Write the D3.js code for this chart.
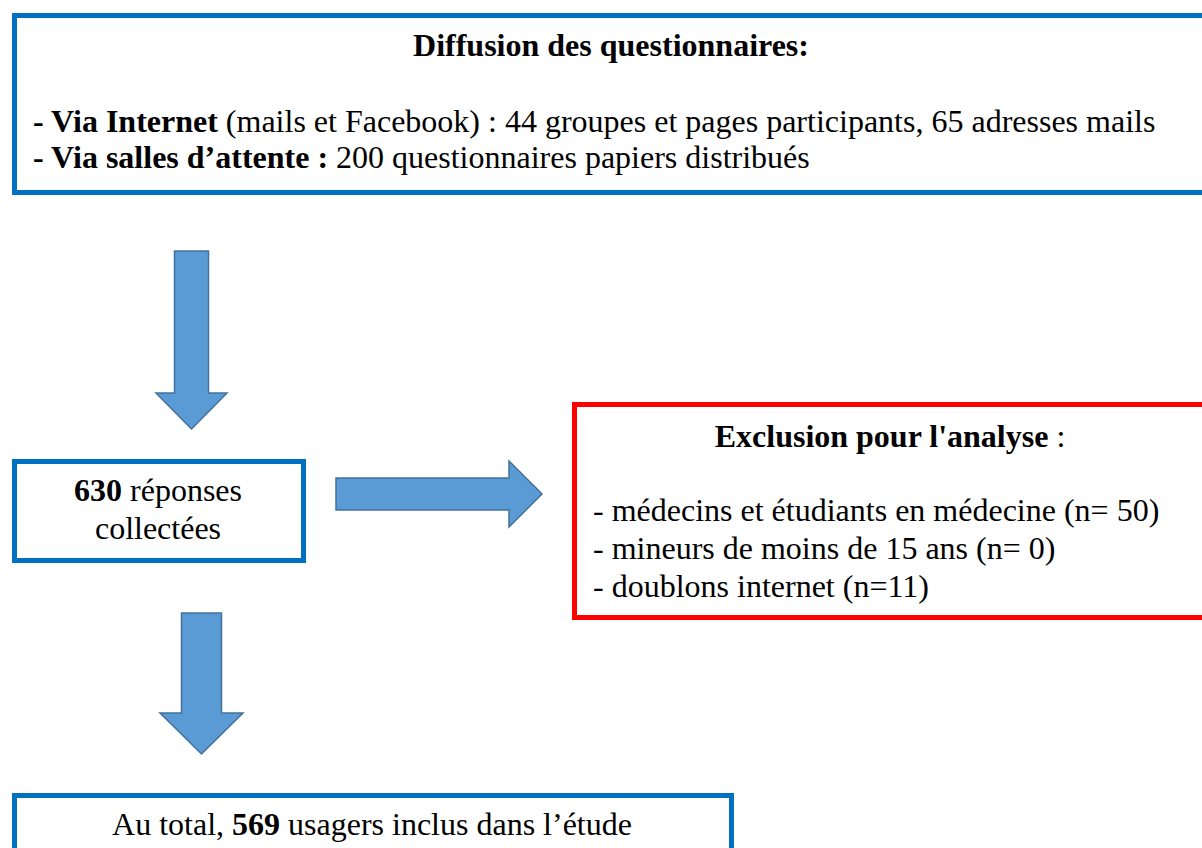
<!DOCTYPE html>
<html>
<head>
<meta charset="utf-8">
<script src="https://cdn.jsdelivr.net/npm/d3@7"></script>
<style>
  body { margin: 0; background: #fff; }
  svg { display: block; }
  text { font-family: "Liberation Serif", "Times New Roman", serif; fill: #000; }
</style>
</head>
<body>
<div id="chart"></div>
<script>
// Flowchart content
const diffusionTitle = 'Diffusion des questionnaires:';
const channels = ['Via Internet', 'Via salles d\u2019attente :'];
const channelDetails = [
  ' (mails et Facebook) : 44 groupes et pages participants, 65 adresses mails',
  ' 200 questionnaires papiers distribués'
];
const collected = 630;
const collectedLabel = ['réponses', 'collectées'];
const exclusionTitle = 'Exclusion pour l\'analyse';
const exclusionLabels = ['médecins et étudiants en médecine', 'mineurs de moins de 15 ans', 'doublons internet'];
const exclusionCounts = ['n= 50', 'n= 0', 'n=11'];
const included = 569;

const width = 1202, height = 848;
const blue = '#0070C0', red = '#FF0000',
      arrowFill = '#5B9BD5', arrowStroke = '#41719C';
const fontSize = 32;

const svg = d3.select('#chart')
  .append('svg')
  .attr('width', width)
  .attr('height', height);

// boxes (outer edges, border drawn inside)
const boxes = [
  {x0: 12, y0: 13, x1: 1220, y1: 195, color: blue},
  {x0: 12, y0: 459, x1: 306, y1: 563, color: blue},
  {x0: 572, y0: 402, x1: 1220, y1: 620, color: red},
  {x0: 12, y0: 793, x1: 734, y1: 900, color: blue}
];
const bw = 5;

svg.selectAll('rect.box')
  .data(boxes)
  .enter()
  .append('rect')
  .attr('class', 'box')
  .attr('x', d => d.x0 + bw / 2)
  .attr('y', d => d.y0 + bw / 2)
  .attr('width', d => d.x1 - d.x0 - bw)
  .attr('height', d => d.y1 - d.y0 - bw)
  .attr('fill', 'none')
  .attr('stroke', d => d.color)
  .attr('stroke-width', bw);

// block arrows
function downArrow(a) {
  const p = d3.path();
  p.moveTo(a.cx - a.shaft / 2, a.top);
  p.lineTo(a.cx + a.shaft / 2, a.top);
  p.lineTo(a.cx + a.shaft / 2, a.neck);
  p.lineTo(a.cx + a.head / 2, a.neck);
  p.lineTo(a.cx, a.tip);
  p.lineTo(a.cx - a.head / 2, a.neck);
  p.lineTo(a.cx - a.shaft / 2, a.neck);
  p.closePath();
  return p.toString();
}
function rightArrow(a) {
  const p = d3.path();
  p.moveTo(a.left, a.cy - a.shaft / 2);
  p.lineTo(a.neck, a.cy - a.shaft / 2);
  p.lineTo(a.neck, a.cy - a.head / 2);
  p.lineTo(a.tip, a.cy);
  p.lineTo(a.neck, a.cy + a.head / 2);
  p.lineTo(a.neck, a.cy + a.shaft / 2);
  p.lineTo(a.left, a.cy + a.shaft / 2);
  p.closePath();
  return p.toString();
}

const arrows = [
  {dir: 'down', cx: 191.5, top: 251, shaft: 34, neck: 393, head: 71, tip: 429},
  {dir: 'right', cy: 494, left: 336, shaft: 32, neck: 509, head: 66, tip: 542},
  {dir: 'down', cx: 201.5, top: 613, shaft: 40, neck: 713, head: 83, tip: 754}
];

svg.selectAll('path.arrow')
  .data(arrows)
  .enter()
  .append('path')
  .attr('class', 'arrow')
  .attr('d', d => d.dir === 'down' ? downArrow(d) : rightArrow(d))
  .attr('fill', arrowFill)
  .attr('stroke', arrowStroke)
  .attr('stroke-width', 1.5);

// texts
const txt = svg.append('g').attr('font-size', fontSize);

txt.append('text')
  .attr('x', 611).attr('y', 56)
  .attr('text-anchor', 'middle')
  .attr('font-weight', 'bold')
  .text(diffusionTitle);

txt.selectAll('text.channel')
  .data(channels)
  .enter()
  .append('text')
  .attr('class', 'channel')
  .attr('x', 33)
  .attr('y', (d, i) => 132 + i * 36)
  .each(function(d, i) {
    const t = d3.select(this);
    t.append('tspan').attr('font-weight', 'bold').text('- ' + d);
    t.append('tspan').text(channelDetails[i]);
  });

const c = txt.append('text').attr('x', 158).attr('y', 501).attr('text-anchor', 'middle');
c.append('tspan').attr('font-weight', 'bold').text(collected);
c.append('tspan').text(' ' + collectedLabel[0]);
txt.append('text').attr('x', 158).attr('y', 539).attr('text-anchor', 'middle').text(collectedLabel[1]);

const ex = txt.append('text').attr('x', 890).attr('y', 447).attr('text-anchor', 'middle');
ex.append('tspan').attr('font-weight', 'bold').text(exclusionTitle);
ex.append('tspan').text(' :');

txt.selectAll('text.excl')
  .data(exclusionLabels)
  .enter()
  .append('text')
  .attr('class', 'excl')
  .attr('x', 593)
  .attr('y', (d, i) => 521 + i * 38)
  .text((d, i) => '- ' + d + ' (' + exclusionCounts[i] + ')');

const tot = txt.append('text').attr('x', 372).attr('y', 835).attr('text-anchor', 'middle');
tot.append('tspan').text('Au total, ');
tot.append('tspan').attr('font-weight', 'bold').text(included);
tot.append('tspan').text(' usagers inclus dans l\u2019étude');
</script>
</body>
</html>
